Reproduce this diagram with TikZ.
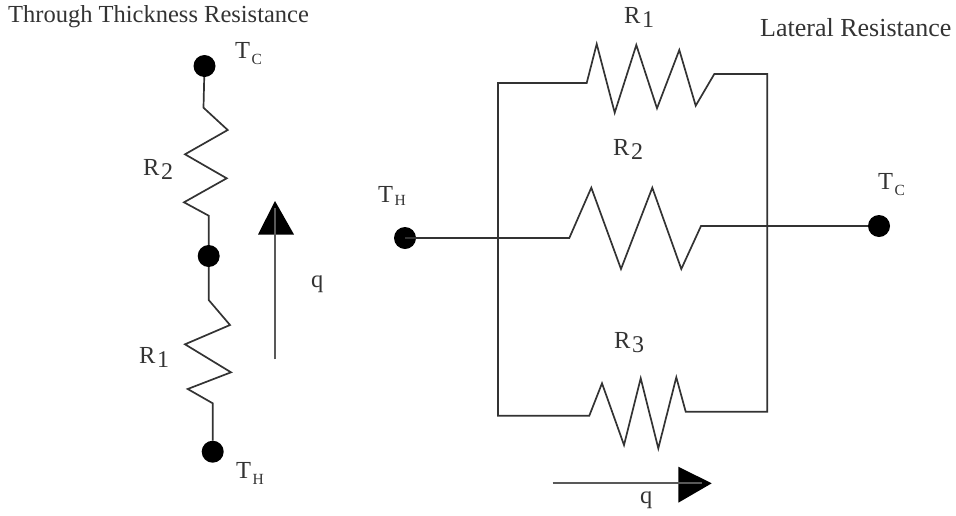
\documentclass[tikz,border=0pt]{standalone}
\usepackage{fontspec}
\setmainfont{Liberation Serif}
\newcommand{\subA}[1]{\hspace{1.5pt}\raisebox{-0.2em}{\fontsize{24}{24}\selectfont #1}}
\newcommand{\subB}[2][6pt]{\hspace{1.5pt}\raisebox{-#1}{\fontsize{15.5}{16}\selectfont #2}}
\tikzset{
  wire/.style={line width=1.7pt,draw=black!80,line join=miter},
  dot/.style={circle,fill=black,draw=none,minimum size=22pt,inner sep=0pt},
  lbl/.style={anchor=base west,inner sep=0pt,text=black!80,font=\fontsize{24.5}{28}\selectfont},
  head/.style={fill=black,draw=none},
}
\begin{document}
\begin{tikzpicture}[x=1pt,y=-1pt]
\useasboundingbox (0,0) rectangle (956,515);
% terminals
\node[dot] (tcL) at (204.5,66) {};
\node[dot] (mid) at (208.7,256) {};
\node[dot] (thL) at (212.7,451.7) {};
\node[dot] (thR) at (405,238) {};
\node[dot] (tcR) at (879,226) {};
% left resistors
\draw[wire] (tcL) -- (203.5,107.7) -- (227.7,130) -- (185,154.3) -- (226.7,178.3) -- (184,202.3) -- (208.7,215.7) -- (mid);
\draw[wire] (mid) -- (208.7,300) -- (230,325) -- (185,344.3) -- (231,372.3) -- (187.7,389) -- (212.7,403.3) -- (thL);
% parallel network
\coordinate (lt) at (498,83);
\coordinate (lb) at (498,415.7);
\coordinate (rt) at (767.3,74);
\coordinate (rb) at (767.3,411.7);
\draw[wire] (lb) -- (lt) -- (586.7,83) -- (596.7,44) -- (614.7,112.7) -- (636.3,45) -- (657,108.3) -- (679.3,50) -- (695.7,105.7) -- (714.3,74) -- (rt) -- (rb)
  -- (685.7,411.7) -- (676.3,377.3) -- (658.3,448.3) -- (640.7,378.3) -- (624,445) -- (602,383.3) -- (589.3,415.7) -- cycle;
\draw[wire] (thR.center) -- (569.3,238) -- (591.3,187.7) -- (621,269) -- (652.3,187.7) -- (681.3,269) -- (701,226) -- (tcR);
% flow arrows
\coordinate (a1s) at (275,359.3);
\coordinate (a1e) at (275,201);
\coordinate (a2s) at (552.7,483.3);
\coordinate (a2e) at (711.7,483.3);
\fill[head] (a1e) -- (294,234.5) -- (258,234.5) -- cycle;
\fill[head] (a2e) -- (678.3,502.7) -- (678.3,466.7) -- cycle;
\draw[wire,draw=black!65] (a1s) -- (275,208);
\draw[wire,draw=black!65] (a2s) -- (702,483.3);
% labels
\node[lbl] (title1) at (8,22) {Through Thickness Resistance};
\node[lbl,font=\fontsize{26}{28}\selectfont] (title2) at (760,36) {Lateral Resistance};
\node[lbl] (ltc) at (235,58) {T\subB{C}};
\node[lbl] (lth) at (236,478) {T\subB{H}};
\node[lbl] (lr2) at (143,175) {R\subA{2}};
\node[lbl] (lr1) at (139,363) {R\subA{1}};
\node[lbl] (lq1) at (311,287) {q};
\node[lbl] (rr1) at (624,23) {R\subA{1}};
\node[lbl] (rr2) at (613,155) {R\subA{2}};
\node[lbl] (rr3) at (614,348) {R\subA{3}};
\node[lbl] (lq2) at (640,503) {q};
\node[lbl] (rth) at (378,202) {T\subB[3.5pt]{H}};
\node[lbl] (rtc) at (878,189) {T\subB{C}};
\end{tikzpicture}
\end{document}
